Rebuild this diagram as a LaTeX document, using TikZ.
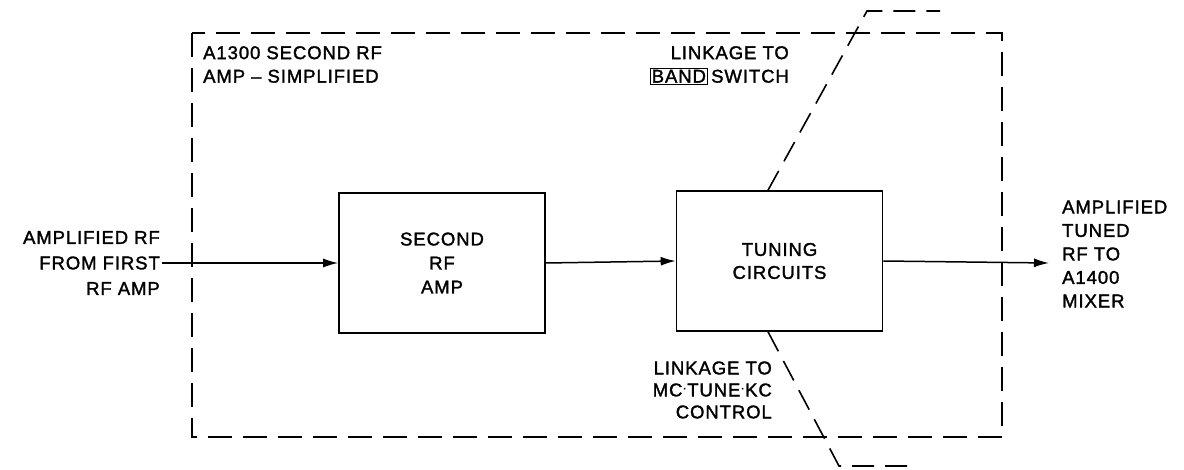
\documentclass[tikz,border=0pt]{standalone}
\usepackage{fontspec}
\setmainfont{Liberation Sans}[LetterSpace=5, FakeBold=1.6]
\usetikzlibrary{arrows.meta,calc}
\begin{document}
\begin{tikzpicture}[x=1pt,y=-1pt,
  lbl/.style={font=\fontsize{18.5}{23.5}\selectfont, inner sep=0pt},
  blockbox/.style={draw, line width=1.6pt, minimum width=206pt, minimum height=140pt, align=center, font=\fontsize{18.5}{24}\selectfont, inner sep=0pt},
  sig/.style={line width=1.5pt, -{Latex[length=15pt,width=9pt]}},
  dsh/.style={line width=1.6pt, dash pattern=on 24pt off 11pt},
]
\useasboundingbox (0,0) rectangle (1184,470);
% enclosure
\draw[dsh] (192,33) rectangle (1002,437);
% titles
\node[lbl, anchor=north west, align=left] (title) at (203,46) {A1300 SECOND RF\\AMP -- SIMPLIFIED};
\node[lbl, anchor=north east, align=right] (lkband) at (789,46) {LINKAGE TO\\{\setlength{\fboxsep}{1pt}\setlength{\fboxrule}{1.2pt}\fbox{BAND}}\,SWITCH};
% blocks
\node[blockbox] (amp) at (442,263) {SECOND\\RF\\AMP};
\node[blockbox, font=\fontsize{18.5}{23}\selectfont] (tune) at (779.5,261) {TUNING\\CIRCUITS};
% side labels
\node[lbl, anchor=east, align=right, font=\fontsize{18.5}{25.5}\selectfont] (src) at (160,263) {AMPLIFIED RF\\FROM FIRST\\RF AMP};
\node[lbl, anchor=west, align=left] (dst) at (1062,254) {AMPLIFIED\\TUNED\\RF TO\\A1400\\MIXER};
\node[lbl, anchor=east, align=right, font=\fontsize{18.5}{22}\selectfont] (lkmc) at (772,390) {LINKAGE TO\\MC{\raisebox{0.3ex}{$\cdot$}}TUNE{\raisebox{0.3ex}{$\cdot$}}KC\\CONTROL};
% signal path
\coordinate (srcend) at ([xshift=2pt]src.east);
\coordinate (out) at (1049,263);
\draw[sig] (srcend) -- (amp.west);
\draw[sig] (amp.east) -- (tune.west);
\draw[sig] (tune.east) -- (out);
% linkages
\coordinate (lt1) at ([xshift=-11.5pt]tune.north);
\coordinate (lt2) at (867,11);
\coordinate (lt3) at (940,11);
\coordinate (lb1) at ([xshift=-11.5pt]tune.south);
\coordinate (lb2) at (839,466);
\coordinate (lb3) at (918,466);
\draw[dsh, dash pattern=on 22pt off 11pt] (lt1) -- (lt2) -- (lt3);
\draw[dsh, dash pattern=on 22pt off 11pt] (lb1) -- (lb2) -- (lb3);
\end{tikzpicture}
\end{document}
